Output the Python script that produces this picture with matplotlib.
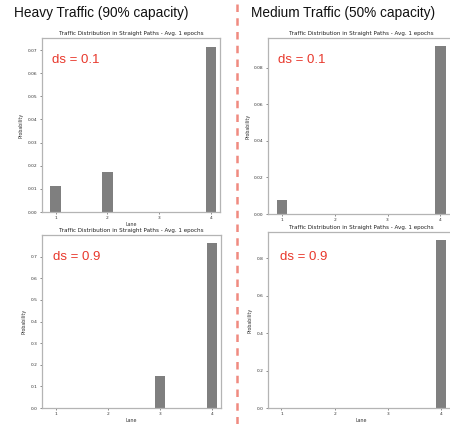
import numpy as np
import matplotlib
matplotlib.use("Agg")
import matplotlib.pyplot as plt
from matplotlib.lines import Line2D

# lanes and probabilities
lanes = [1, 2, 3, 4]
heavy_ds01 = [0.0112, 0.0175, 0.0, 0.0713]
heavy_ds09 = [0.0, 0.0, 0.146, 0.762]
medium_ds01 = [0.0078, 0.0, 0.0, 0.0922]
medium_ds09 = [0.0, 0.002, 0.0, 0.898]

headings = ["Heavy Traffic (90% capacity)", "Medium Traffic (50% capacity)"]
ds_labels = ["ds = 0.1", "ds = 0.9"]
plot_title = "Traffic Distribution in Straight Paths - Avg. 1 epochs"

W, H = 450, 424
fig = plt.figure(figsize=(W / 100, H / 100), dpi=100)
fig.patch.set_facecolor("white")

head_font = ["Liberation Sans", "DejaVu Sans"]
red = "#e8382c"
spine_col = "#b4b4b4"


def px_axes(x0, y0, x1, y1):
    # pixel box (from top-left of image) -> figure fraction axes
    return fig.add_axes([x0 / W, 1 - y1 / H, (x1 - x0) / W, (y1 - y0) / H])


def draw_panel(ax, values, xlim, ylim, yticks, yfmt, show_xlabel=True):
    ax.bar(lanes, values, width=0.2, color="#7f7f7f")
    ax.set_xlim(*xlim)
    ax.set_ylim(*ylim)
    ax.set_xticks(lanes)
    ax.set_yticks(yticks)
    ax.set_yticklabels([yfmt % v for v in yticks])
    ax.tick_params(labelsize=3.2, length=1.5, width=0.4, pad=1.5,
                   colors="#333333")
    for s in ax.spines.values():
        s.set_color(spine_col)
        s.set_linewidth(0.9)
    ax.set_title(plot_title, fontsize=4.1, pad=2, color="#222222")
    ax.set_ylabel("Probability", fontsize=3.4, labelpad=3, color="#333333")
    if show_xlabel:
        ax.set_xlabel("Lane", fontsize=3.4, labelpad=1.5, color="#333333")


# top-left: heavy traffic, ds = 0.1
ax1 = px_axes(42, 38, 220, 212)
draw_panel(ax1, heavy_ds01, (0.737, 4.17), (0, 0.0752),
           np.arange(0, 0.0701, 0.01), "%.2f")

# bottom-left: heavy traffic, ds = 0.9
ax3 = px_axes(42, 235, 221, 408)
draw_panel(ax3, heavy_ds09, (0.737, 4.17), (0, 0.80),
           np.arange(0, 0.701, 0.1), "%.1f")

# top-right: medium traffic, ds = 0.1 (lane label hidden under lower shot)
ax2 = px_axes(268, 38, 454, 214)
draw_panel(ax2, medium_ds01, (0.734, 4.26), (0, 0.0964),
           np.arange(0, 0.0801, 0.02), "%.2f", show_xlabel=False)

# bottom-right: medium traffic, ds = 0.9
ax4 = px_axes(268, 232, 455, 408)
draw_panel(ax4, medium_ds09, (0.747, 4.26), (0, 0.939),
           np.arange(0, 0.801, 0.2), "%.1f")

# slide headings
fig.text(14 / W, 1 - 13 / H, headings[0], fontsize=9.8, family=head_font,
         va="center", ha="left", color="#111111")
fig.text(251 / W, 1 - 13 / H, headings[1], fontsize=9.8, family=head_font,
         va="center", ha="left", color="#111111")

# ds annotations
fig.text(52 / W, 1 - 60 / H, ds_labels[0], fontsize=9.5, family=head_font,
         va="center", ha="left", color=red)
fig.text(53 / W, 1 - 257 / H, ds_labels[1], fontsize=9.5, family=head_font,
         va="center", ha="left", color=red)
fig.text(278 / W, 1 - 60 / H, ds_labels[0], fontsize=9.5, family=head_font,
         va="center", ha="left", color=red)
fig.text(280 / W, 1 - 257 / H, ds_labels[1], fontsize=9.5, family=head_font,
         va="center", ha="left", color=red)

# red dashed divider between the two columns
fig.add_artist(Line2D([237 / W, 237 / W], [0, 1], transform=fig.transFigure,
                      color="#f08a80", linewidth=1.8, linestyle=(0, (3, 2.5))))

fig.savefig("out.png", dpi=100, facecolor="white")
